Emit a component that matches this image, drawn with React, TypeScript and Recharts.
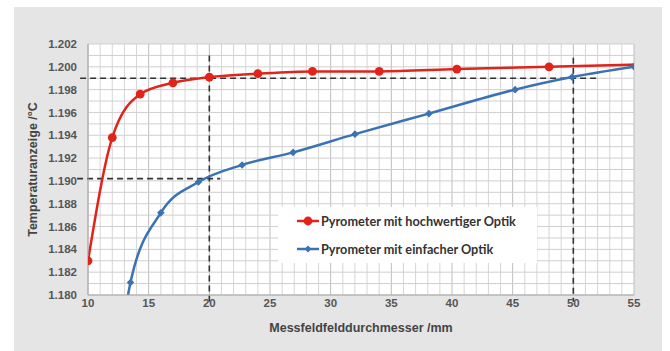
import { LineChart, Line, XAxis, YAxis, CartesianGrid, ReferenceLine, Legend } from "recharts";

// Messfelddurchmesser (mm) und Temperaturanzeige
const redX = [10, 12, 14.3, 17, 20, 24, 28.5, 34, 40.4, 48, 55];
const redY = [1.183, 1.1938, 1.1976, 1.1986, 1.1991, 1.1994, 1.1996, 1.1996, 1.1998, 1.2, 1.2002];
const redMarked = [true, true, true, true, true, true, true, true, true, true, false];

const blueX = [13.3, 13.5, 16, 19.1, 22.7, 26.9, 32, 38.1, 45.2, 49.9, 55];
const blueY = [1.18, 1.1811, 1.1872, 1.1899, 1.1914, 1.1925, 1.1941, 1.1959, 1.198, 1.1991, 1.2];
const blueMarked = [false, true, true, true, true, true, true, true, true, true, true];

const xTicks = [10, 15, 20, 25, 30, 35, 40, 45, 50, 55];
const yTicks = [1.18, 1.182, 1.184, 1.186, 1.188, 1.19, 1.192, 1.194, 1.196, 1.198, 1.2, 1.202];
const xMinor = Array.from({ length: 46 }, (_, i) => 10 + i);
const yMinor = Array.from({ length: 23 }, (_, i) => +(1.18 + i * 0.001).toFixed(3));

const redName = "Pyrometer mit hochwertiger Optik";
const blueName = "Pyrometer mit einfacher Optik";

const RED = "#e2231a";
const BLUE = "#3b72b4";

const redData = redX.map((x, i) => ({ x, y: redY[i] }));
const blueData = blueX.map((x, i) => ({ x, y: blueY[i] }));

const RedDot = (p: any) => {
  if (!redMarked[p.index]) return <g key={p.index} />;
  return <circle key={p.index} cx={p.cx} cy={p.cy} r={4.4} fill={RED} />;
};

const BlueDot = (p: any) => {
  if (!blueMarked[p.index]) return <g key={p.index} />;
  const r = 3.8;
  return (
    <polygon
      key={p.index}
      points={`${p.cx},${p.cy - r} ${p.cx + r},${p.cy} ${p.cx},${p.cy + r} ${p.cx - r},${p.cy}`}
      fill={BLUE}
    />
  );
};

const LegendBox = () => (
  <div style={{ position: "relative", width: 259, height: 56, fontFamily: "Lato, sans-serif", fontWeight: 700, fontSize: 12.7, color: "#333", textAlign: "left" }}>
    {[
      { name: redName, color: RED, top: 14, circle: true },
      { name: blueName, color: BLUE, top: 42, circle: false },
    ].map((e) => (
      <div key={e.name} style={{ position: "absolute", left: 18, top: e.top - 8, height: 16, display: "flex", alignItems: "center" }}>
        <svg width={24} height={14}>
          <line x1={1} y1={7} x2={23} y2={7} stroke={e.color} strokeWidth={2.5} />
          {e.circle ? (
            <circle cx={12} cy={7} r={4.4} fill={e.color} />
          ) : (
            <polygon points="12,3.5 15.5,7 12,10.5 8.5,7" fill={e.color} />
          )}
        </svg>
        <span style={{ marginLeft: 1, whiteSpace: "nowrap" }}>{e.name}</span>
      </div>
    ))}
  </div>
);

const tickStyle = { fontSize: 11.5, fontWeight: 700, fill: "#555", fontFamily: "Liberation Sans, Arial, sans-serif" };
const titleStyle = { fontSize: 12.5, fontWeight: 700, fill: "#444", fontFamily: "Liberation Sans, Arial, sans-serif" };
const dash = { stroke: "#333", strokeWidth: 1.6, strokeDasharray: "6 4" };

export default function App() {
  return (
    <div style={{ position: "absolute", left: 0, top: 0, width: 670, height: 351, background: "#fff" }}>
      <div style={{ position: "absolute", left: 14, top: 7, width: 648, height: 344, background: "#e5e5e5" }} />
      <div style={{ position: "absolute", left: 0, top: 0 }}>
        <LineChart width={670} height={351} margin={{ top: 44, right: 36, left: 18, bottom: 11 }}>
          <CartesianGrid fill="#fff" horizontal={false} vertical={false} />
          {xMinor.map((v) => (
            <ReferenceLine key={`vx${v}`} x={v} stroke={v % 5 === 0 ? "#bdbdbd" : "#d6d6d6"} strokeWidth={1} />
          ))}
          {yMinor.map((v) => (
            <ReferenceLine key={`hy${v}`} y={v} stroke="#cfcfcf" strokeWidth={1} />
          ))}
          <XAxis
            type="number"
            dataKey="x"
            domain={[10, 55]}
            ticks={xTicks}
            allowDataOverflow
            tickSize={0}
            tickMargin={4}
            height={45}
            stroke="#a6a6a6"
            tick={tickStyle}
            label={{ value: "Messfeldfelddurchmesser /mm", position: "insideBottom", offset: 8, style: titleStyle }}
          />
          <YAxis
            type="number"
            domain={[1.18, 1.202]}
            ticks={yTicks}
            allowDataOverflow
            tickSize={0}
            tickMargin={11}
            width={70}
            stroke="#a6a6a6"
            tick={tickStyle}
            tickFormatter={(v: number) => v.toFixed(3)}
            label={{ value: "Temperaturanzeige /°C", angle: -90, position: "insideLeft", offset: 15, style: { ...titleStyle, textAnchor: "middle" } }}
          />
          <ReferenceLine segment={[{ x: 9.35, y: 1.199 }, { x: 52, y: 1.199 }]} ifOverflow="visible" {...dash} />
          <ReferenceLine segment={[{ x: 9.1, y: 1.1902 }, { x: 20.9, y: 1.1902 }]} ifOverflow="visible" {...dash} />
          <ReferenceLine segment={[{ x: 20, y: 1.201 }, { x: 20, y: 1.1794 }]} ifOverflow="visible" {...dash} />
          <ReferenceLine segment={[{ x: 50, y: 1.2008 }, { x: 50, y: 1.1794 }]} ifOverflow="visible" {...dash} />
          <Line
            data={redData}
            dataKey="y"
            name={redName}
            type="monotone"
            stroke={RED}
            strokeWidth={2.5}
            dot={RedDot}
            activeDot={false}
            isAnimationActive={false}
          />
          <Line
            data={blueData}
            dataKey="y"
            name={blueName}
            type="monotone"
            stroke={BLUE}
            strokeWidth={2.5}
            dot={BlueDot}
            activeDot={false}
            isAnimationActive={false}
          />
          <Legend
            layout="horizontal"
            verticalAlign="middle"
            align="center"
            content={<LegendBox />}
            wrapperStyle={{ position: "absolute", left: 278, top: 207, width: 259, height: 56, background: "#fff" }}
          />
        </LineChart>
      </div>
    </div>
  );
}
